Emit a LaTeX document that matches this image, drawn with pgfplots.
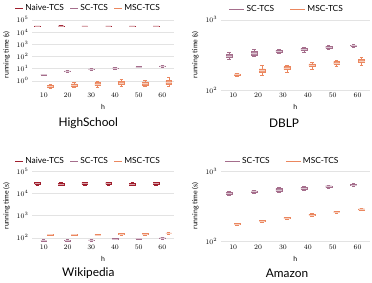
\documentclass[border=0pt]{standalone}
\usepackage{fontspec}
\setmainfont{Lato}
\usepackage{pgfplots}
\pgfplotsset{compat=1.18}
\definecolor{naive}{RGB}{160,30,45}
\definecolor{scc}{RGB}{165,110,140}
\definecolor{msc}{RGB}{235,135,95}
% \bx{colour}{position}{lower whisker}{lower quartile}{median}{upper quartile}{upper whisker}
\newcommand{\bx}[7]{%
  \addplot[draw=#1, line width=0.4pt, forget plot] coordinates {(#2,#3) (#2,#7)};%
  \addplot[draw=#1, line width=0.4pt, forget plot] coordinates {(#2-0.7,#3) (#2+0.7,#3)};%
  \addplot[draw=#1, line width=0.4pt, forget plot] coordinates {(#2-0.7,#7) (#2+0.7,#7)};%
  \addplot[draw=#1, fill=#1!80, line width=0.4pt, forget plot] coordinates {(#2-1.2,#4) (#2+1.2,#4) (#2+1.2,#6) (#2-1.2,#6) (#2-1.2,#4)};%
  \addplot[draw=#1!40, line width=0.4pt, forget plot] coordinates {(#2-1.2,#5) (#2+1.2,#5)};%
}
\begin{document}
\begin{tikzpicture}
\draw[draw=none] (0,0) rectangle (372pt,285pt);
% ---------------- HighSchool
\begin{axis}[scale only axis, at={(28pt,194pt)}, anchor=south west, width=144pt, height=71pt,
  ymode=log, ymin=0.177, ymax=1e5, ytick={1,10,100,1000,10000,100000},
  xmin=5, xmax=65, xtick={10,20,30,40,50,60},
  axis line style={draw=none}, tick style={draw=none},
  ymajorgrids, grid style={gray!22, line width=0.5pt},
  xlabel={h}, ylabel={running time (s)},
  tick label style={font=\scriptsize}, label style={font=\scriptsize},
  clip=false,
  legend columns=-1, legend style={draw=none, fill=none, font=\fontsize{8.5}{10}\selectfont, at={(0.396,1.165)}, anchor=center, /tikz/every even column/.append style={column sep=4pt}}]
\addlegendimage{legend image code/.code={\draw[draw=naive, line width=0.6pt] (0pt,0pt) -- (8pt,0pt);}}\addlegendentry{Naive-TCS}
\addlegendimage{legend image code/.code={\draw[draw=scc, line width=0.6pt] (0pt,0pt) -- (8pt,0pt);}}\addlegendentry{SC-TCS}
\addlegendimage{legend image code/.code={\draw[draw=msc, line width=0.6pt] (0pt,0pt) -- (8pt,0pt);}}\addlegendentry{MSC-TCS}
\bx{naive}{7.3}{28000}{29000}{30000}{31000}{32000}
\bx{naive}{17.3}{28000}{29500}{31000}{32500}{34000}
\bx{naive}{27.3}{28000}{29000}{30000}{31000}{32000}
\bx{naive}{37.3}{28000}{29000}{30000}{31000}{32000}
\bx{naive}{47.3}{28000}{29000}{30000}{31000}{32000}
\bx{naive}{57.3}{28000}{29000}{30000}{31000}{32000}
\bx{scc}{10}{2.9}{3.1}{3.3}{3.5}{3.8}
\bx{scc}{20}{5.4}{5.8}{6.1}{6.5}{7.0}
\bx{scc}{30}{7.8}{8.3}{8.8}{9.3}{10.0}
\bx{scc}{40}{9.4}{10.1}{10.7}{11.4}{12.3}
\bx{scc}{50}{11.8}{12.7}{13.5}{14.4}{15.5}
\bx{scc}{60}{13.3}{14.5}{15.5}{16.6}{18.0}
\bx{msc}{12.7}{0.26}{0.30}{0.36}{0.43}{0.50}
\bx{msc}{22.7}{0.30}{0.36}{0.45}{0.56}{0.70}
\bx{msc}{32.7}{0.30}{0.40}{0.55}{0.72}{0.95}
\bx{msc}{42.7}{0.35}{0.48}{0.65}{0.88}{1.30}
\bx{msc}{52.7}{0.35}{0.46}{0.62}{0.82}{1.10}
\bx{msc}{62.7}{0.35}{0.48}{0.70}{1.05}{1.80}
\end{axis}
% ---------------- DBLP
\begin{axis}[scale only axis, at={(219pt,194pt)}, anchor=south west, width=151pt, height=71pt,
  ymode=log, ymin=100, ymax=1000, ytick={100,1000},
  xmin=5, xmax=65, xtick={10,20,30,40,50,60},
  axis line style={draw=none}, tick style={draw=none},
  ymajorgrids, grid style={gray!22, line width=0.5pt},
  xlabel={h}, ylabel={running time (s)},
  tick label style={font=\scriptsize}, label style={font=\scriptsize},
  clip=false,
  legend columns=-1, legend style={draw=none, fill=none, font=\fontsize{8.5}{10}\selectfont, at={(0.444,1.15)}, anchor=center, /tikz/every even column/.append style={column sep=14pt}}]
\addlegendimage{legend image code/.code={\draw[draw=scc, line width=0.6pt] (0pt,0pt) -- (15pt,0pt);}}\addlegendentry{SC-TCS}
\addlegendimage{legend image code/.code={\draw[draw=msc, line width=0.6pt] (0pt,0pt) -- (15pt,0pt);}}\addlegendentry{MSC-TCS}
\bx{scc}{8.4}{270}{290}{305}{320}{345}
\bx{scc}{18.4}{300}{315}{330}{355}{380}
\bx{scc}{28.4}{335}{348}{358}{368}{380}
\bx{scc}{38.4}{345}{365}{380}{392}{405}
\bx{scc}{48.4}{375}{395}{405}{420}{435}
\bx{scc}{58.4}{410}{420}{428}{436}{445}
\bx{msc}{11.6}{155}{160}{165}{170}{175}
\bx{msc}{21.6}{160}{178}{190}{200}{225}
\bx{msc}{31.6}{180}{195}{204}{215}{225}
\bx{msc}{41.6}{200}{220}{228}{236}{250}
\bx{msc}{51.6}{215}{235}{243}{255}{265}
\bx{msc}{61.6}{225}{245}{257}{270}{290}
\end{axis}
% ---------------- Wikipedia
\begin{axis}[scale only axis, at={(28pt,41pt)}, anchor=south west, width=144pt, height=71pt,
  ymode=log, ymin=70, ymax=1e5, ytick={100,1000,10000,100000},
  xmin=5, xmax=65, xtick={10,20,30,40,50,60},
  axis line style={draw=none}, tick style={draw=none},
  ymajorgrids, grid style={gray!22, line width=0.5pt},
  xlabel={h}, ylabel={running time (s)},
  tick label style={font=\scriptsize}, label style={font=\scriptsize},
  clip=false,
  legend columns=-1, legend style={draw=none, fill=none, font=\fontsize{8.5}{10}\selectfont, at={(0.396,1.145)}, anchor=center, /tikz/every even column/.append style={column sep=4pt}}]
\addlegendimage{legend image code/.code={\draw[draw=naive, line width=0.6pt] (0pt,0pt) -- (8pt,0pt);}}\addlegendentry{Naive-TCS}
\addlegendimage{legend image code/.code={\draw[draw=scc, line width=0.6pt] (0pt,0pt) -- (8pt,0pt);}}\addlegendentry{SC-TCS}
\addlegendimage{legend image code/.code={\draw[draw=msc, line width=0.6pt] (0pt,0pt) -- (8pt,0pt);}}\addlegendentry{MSC-TCS}
\bx{naive}{7.3}{23000}{25500}{28000}{30500}{33000}
\bx{naive}{17.3}{22000}{24000}{26000}{28000}{30000}
\bx{naive}{27.3}{23000}{25500}{28000}{30500}{33000}
\bx{naive}{37.3}{23000}{25500}{28000}{30500}{33000}
\bx{naive}{47.3}{22000}{24000}{26000}{28000}{30000}
\bx{naive}{57.3}{23000}{25500}{28000}{30500}{33000}
\bx{scc}{10}{70}{73}{76}{79}{82}
\bx{scc}{20}{70}{73}{76}{79}{82}
\bx{scc}{30}{72}{75}{78}{81}{84}
\bx{scc}{40}{83}{87}{90}{93}{97}
\bx{scc}{50}{86}{90}{93}{96}{100}
\bx{scc}{60}{90}{94}{97}{100}{104}
\bx{msc}{12.7}{128}{134}{140}{146}{152}
\bx{msc}{22.7}{128}{134}{140}{146}{152}
\bx{msc}{32.7}{126}{131}{137}{143}{149}
\bx{msc}{42.7}{136}{142}{148}{154}{160}
\bx{msc}{52.7}{136}{142}{148}{154}{160}
\bx{msc}{62.7}{147}{153}{160}{167}{173}
\end{axis}
% ---------------- Amazon
\begin{axis}[scale only axis, at={(219pt,41pt)}, anchor=south west, width=151pt, height=71pt,
  ymode=log, ymin=100, ymax=1000, ytick={100,1000},
  xmin=5, xmax=65, xtick={10,20,30,40,50,60},
  axis line style={draw=none}, tick style={draw=none},
  ymajorgrids, grid style={gray!22, line width=0.5pt},
  xlabel={h}, ylabel={running time (s)},
  tick label style={font=\scriptsize}, label style={font=\scriptsize},
  clip=false,
  legend columns=-1, legend style={draw=none, fill=none, font=\fontsize{8.5}{10}\selectfont, at={(0.414,1.145)}, anchor=center, /tikz/every even column/.append style={column sep=14pt}}]
\addlegendimage{legend image code/.code={\draw[draw=scc, line width=0.6pt] (0pt,0pt) -- (15pt,0pt);}}\addlegendentry{SC-TCS}
\addlegendimage{legend image code/.code={\draw[draw=msc, line width=0.6pt] (0pt,0pt) -- (15pt,0pt);}}\addlegendentry{MSC-TCS}
\bx{scc}{8.4}{450}{465}{482}{500}{515}
\bx{scc}{18.4}{480}{495}{509}{522}{535}
\bx{scc}{28.4}{495}{515}{538}{565}{585}
\bx{scc}{38.4}{530}{550}{567}{585}{600}
\bx{scc}{48.4}{565}{583}{600}{617}{635}
\bx{scc}{58.4}{600}{618}{634}{650}{670}
\bx{msc}{11.6}{169}{173}{176}{179}{183}
\bx{msc}{21.6}{187}{190}{194}{198}{201}
\bx{msc}{31.6}{205}{210}{214}{218}{223}
\bx{msc}{41.6}{229}{233}{238}{243}{247}
\bx{msc}{51.6}{250}{255}{260}{265}{270}
\bx{msc}{61.6}{273}{278}{284}{290}{295}
\end{axis}
% ---------------- titles
\node[font=\large] at (85pt,160pt) {HighSchool};
\node[font=\large] at (283pt,160pt) {DBLP};
\node[font=\large] at (85pt,8.3pt) {Wikipedia};
\node[font=\large] at (286pt,8.3pt) {Amazon};
\end{tikzpicture}
\end{document}
